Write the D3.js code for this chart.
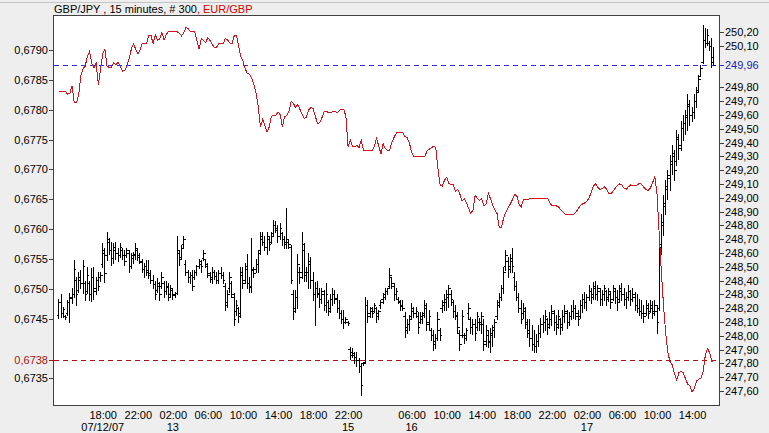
<!DOCTYPE html>
<html>
<head>
<meta charset="utf-8">
<script src="https://cdn.jsdelivr.net/npm/d3@7"></script>
<style>
  html, body { margin: 0; padding: 0; background: #eeeeee; }
  svg { display: block; font-family: "Liberation Sans", Arial, sans-serif; }
</style>
</head>
<body>
<svg id="chart" width="769" height="433"></svg>
<script>
// GBP/JPY 15 minute bars (right axis)
const high = [
  248.27,248.30,248.21,248.15,248.26,248.31,248.35,248.55,248.43,248.46,
  248.48,248.55,248.40,248.50,248.40,248.49,248.50,248.43,248.46,248.46,
  248.67,248.64,248.75,248.71,248.68,248.67,248.68,248.64,248.67,248.64,
  248.62,248.64,248.62,248.60,248.61,248.67,248.64,248.60,248.56,248.53,
  248.55,248.55,248.48,248.44,248.40,248.42,248.39,248.46,248.40,248.40,
  248.38,248.37,248.35,248.32,248.72,248.62,248.66,248.72,248.55,248.48,
  248.46,248.48,248.48,248.51,248.56,248.55,248.62,248.56,248.53,248.46,
  248.50,248.48,248.46,248.48,248.50,248.46,248.38,248.33,248.46,248.40,
  248.31,248.26,248.21,248.50,248.50,248.53,248.59,248.43,248.71,248.50,
  248.56,248.62,248.75,248.75,248.72,248.75,248.72,248.75,248.84,248.83,
  248.80,248.82,248.75,248.72,248.93,248.70,248.66,248.33,248.33,248.59,
  248.50,248.75,248.67,248.50,248.60,248.57,248.46,248.39,248.40,248.35,
  248.35,248.33,248.38,248.26,248.30,248.35,248.33,248.30,248.26,248.19,
  248.19,248.14,248.11,247.92,247.91,247.88,247.88,247.84,247.80,247.81,
  248.28,248.26,248.21,248.21,248.24,248.21,248.19,248.26,248.31,248.35,
  248.35,248.49,248.43,248.38,248.35,248.28,248.26,248.26,248.17,248.12,
  248.15,248.24,248.21,248.21,248.17,248.17,248.17,248.26,248.24,248.19,
  248.06,248.04,248.01,248.17,248.06,248.26,248.30,248.33,248.37,248.33,
  248.26,248.22,248.17,248.04,248.19,248.02,248.06,248.24,248.14,248.12,
  248.12,248.17,248.13,248.17,248.12,248.08,248.04,248.06,248.08,248.12,
  248.26,248.31,248.37,248.50,248.62,248.57,248.59,248.64,248.46,248.40,
  248.31,248.26,248.24,248.21,248.12,248.12,248.08,248.04,248.01,248.08,
  248.13,248.15,248.19,248.13,248.17,248.22,248.19,248.15,248.19,248.13,
  248.19,248.22,248.19,248.17,248.22,248.26,248.22,248.19,248.26,248.30,
  248.32,248.30,248.37,248.35,248.39,248.40,248.37,248.35,248.33,248.37,
  248.33,248.35,248.32,248.37,248.35,248.33,248.37,248.38,248.35,248.32,
  248.37,248.33,248.35,248.32,248.30,248.27,248.26,248.22,248.26,248.24,
  248.26,248.25,248.26,248.22,248.70,248.88,249.02,249.13,249.20,249.31,
  249.38,249.35,249.49,249.46,249.56,249.60,249.64,249.75,249.71,249.66,
  249.75,249.80,249.89,249.96,250.25,250.23,250.22,250.14,250.16,250.09
];
const low = [
  248.13,248.14,248.14,248.12,248.15,248.10,248.24,248.28,248.22,248.32,
  248.35,248.31,248.26,248.31,248.26,248.25,248.27,248.30,248.33,248.40,
  248.50,248.39,248.55,248.59,248.51,248.53,248.56,248.54,248.57,248.56,
  248.51,248.57,248.46,248.49,248.53,248.56,248.55,248.53,248.46,248.43,
  248.44,248.42,248.38,248.35,248.27,248.32,248.26,248.35,248.28,248.30,
  248.26,248.28,248.27,248.28,248.30,248.51,248.56,248.64,248.44,248.39,
  248.38,248.33,248.41,248.44,248.49,248.46,248.55,248.50,248.43,248.39,
  248.38,248.41,248.38,248.38,248.42,248.38,248.19,248.21,248.32,248.28,
  248.08,248.15,248.10,248.14,248.35,248.38,248.35,248.32,248.32,248.43,
  248.46,248.46,248.59,248.66,248.62,248.59,248.62,248.67,248.72,248.75,
  248.68,248.70,248.66,248.64,248.64,248.64,248.38,248.12,248.17,248.20,
  248.38,248.42,248.40,248.40,248.35,248.35,248.26,248.08,248.28,248.21,
  248.24,248.19,248.17,248.15,248.17,248.22,248.24,248.17,248.13,248.09,
  248.06,248.09,248.08,247.83,247.85,247.80,247.78,247.74,247.57,247.79,
  247.80,248.10,248.14,248.14,248.17,248.10,248.12,248.20,248.24,248.27,
  248.30,248.35,248.35,248.26,248.27,248.24,248.19,248.19,247.99,248.02,
  248.04,248.12,248.14,248.14,248.02,248.09,248.09,248.14,248.04,248.04,
  247.97,247.90,247.91,247.97,247.97,248.17,248.19,248.19,248.21,248.22,
  248.14,248.12,248.02,247.90,247.99,247.95,247.97,248.12,248.02,248.01,
  247.97,248.04,248.04,248.02,247.90,247.93,247.92,247.88,247.93,247.99,
  248.12,248.21,248.26,248.31,248.48,248.43,248.46,248.46,248.33,248.26,
  248.17,248.09,248.13,248.06,247.99,247.93,247.90,247.88,247.88,247.93,
  247.99,248.03,248.04,248.01,248.06,248.08,248.04,248.01,248.06,248.01,
  248.04,248.10,248.06,248.08,248.12,248.13,248.12,248.08,248.13,248.17,
  248.20,248.19,248.26,248.24,248.27,248.27,248.26,248.22,248.22,248.26,
  248.22,248.25,248.20,248.26,248.24,248.19,248.25,248.26,248.22,248.20,
  248.26,248.22,248.25,248.19,248.17,248.15,248.13,248.10,248.15,248.13,
  248.17,248.13,248.15,248.02,248.19,248.59,248.73,248.88,248.99,249.06,
  249.17,249.13,249.24,249.28,249.35,249.42,249.46,249.49,249.53,249.56,
  249.58,249.66,249.77,249.88,249.98,250.09,250.11,250.07,249.95,249.96
];
const open = [
  248.15,248.24,248.16,248.14,248.16,248.24,248.27,248.30,248.40,248.33,
  248.40,248.38,248.38,248.32,248.38,248.30,248.42,248.34,248.40,248.42,
  248.52,248.60,248.58,248.68,248.62,248.56,248.62,248.60,248.58,248.62,
  248.58,248.58,248.60,248.50,248.56,248.58,248.62,248.58,248.53,248.48,
  248.50,248.47,248.44,248.40,248.37,248.33,248.36,248.36,248.38,248.32,
  248.35,248.30,248.33,248.30,248.31,248.60,248.57,248.66,248.52,248.46,
  248.42,248.44,248.42,248.46,248.50,248.52,248.56,248.55,248.50,248.44,
  248.42,248.46,248.43,248.40,248.45,248.44,248.36,248.24,248.34,248.38,
  248.28,248.18,248.20,248.16,248.44,248.40,248.48,248.38,248.36,248.47,
  248.48,248.52,248.62,248.70,248.68,248.64,248.70,248.68,248.74,248.80,
  248.76,248.72,248.74,248.70,248.68,248.68,248.64,248.30,248.20,248.28,
  248.46,248.46,248.62,248.44,248.46,248.52,248.40,248.30,248.34,248.30,
  248.26,248.30,248.22,248.24,248.20,248.26,248.30,248.26,248.20,248.16,
  248.12,248.10,248.10,247.90,247.88,247.86,247.84,247.82,247.78,247.80,
  247.81,248.22,248.16,248.18,248.18,248.20,248.16,248.22,248.26,248.30,
  248.32,248.36,248.42,248.36,248.30,248.26,248.24,248.22,248.14,248.06,
  248.08,248.14,248.18,248.16,248.14,248.10,248.12,248.16,248.20,248.10,
  248.04,248.00,247.96,247.98,248.04,248.20,248.22,248.24,248.28,248.30,
  248.24,248.18,248.14,248.02,248.00,248.00,248.00,248.16,248.12,248.06,
  248.08,248.06,248.10,248.10,248.08,247.96,248.00,247.96,248.00,248.04,
  248.14,248.24,248.28,248.34,248.50,248.54,248.50,248.54,248.42,248.36,
  248.28,248.20,248.16,248.18,248.08,248.04,247.98,247.94,247.92,247.96,
  248.02,248.08,248.10,248.12,248.08,248.12,248.16,248.10,248.08,248.12,
  248.08,248.14,248.16,248.10,248.14,248.18,248.20,248.14,248.14,248.22,
  248.26,248.24,248.28,248.32,248.30,248.34,248.30,248.32,248.26,248.30,
  248.32,248.28,248.30,248.26,248.32,248.28,248.26,248.32,248.30,248.26,
  248.28,248.32,248.26,248.28,248.22,248.20,248.18,248.16,248.16,248.20,
  248.18,248.20,248.18,248.18,248.20,248.64,248.80,248.94,249.06,249.14,
  249.24,249.30,249.26,249.42,249.38,249.50,249.54,249.58,249.66,249.60,
  249.62,249.70,249.78,249.88,249.98,250.14,250.12,250.12,250.10,250.02
];
const close = [
  248.24,248.16,248.19,248.13,248.24,248.28,248.30,248.48,248.30,248.42,
  248.38,248.50,248.30,248.44,248.30,248.42,248.32,248.40,248.36,248.44,
  248.62,248.45,248.70,248.62,248.56,248.64,248.60,248.58,248.64,248.58,
  248.54,248.62,248.50,248.58,248.59,248.63,248.57,248.54,248.48,248.50,
  248.46,248.45,248.40,248.37,248.30,248.38,248.30,248.42,248.32,248.36,
  248.28,248.34,248.29,248.31,248.62,248.55,248.63,248.70,248.46,248.42,
  248.44,248.36,248.46,248.50,248.54,248.50,248.60,248.52,248.45,248.41,
  248.46,248.43,248.40,248.45,248.44,248.40,248.22,248.30,248.42,248.30,
  248.12,248.22,248.14,248.46,248.38,248.50,248.38,248.35,248.48,248.45,
  248.52,248.60,248.72,248.68,248.64,248.72,248.66,248.72,248.80,248.78,
  248.72,248.78,248.70,248.66,248.70,248.66,248.40,248.18,248.28,248.52,
  248.42,248.66,248.46,248.46,248.54,248.40,248.30,248.34,248.31,248.26,
  248.32,248.22,248.30,248.18,248.26,248.30,248.27,248.20,248.16,248.12,
  248.10,248.12,248.09,247.86,247.87,247.84,247.82,247.78,247.64,247.80,
  248.22,248.14,248.20,248.16,248.22,248.14,248.18,248.24,248.28,248.32,
  248.34,248.44,248.38,248.30,248.32,248.25,248.21,248.20,248.04,248.08,
  248.12,248.20,248.16,248.18,248.06,248.14,248.15,248.22,248.08,248.14,
  248.00,247.94,247.98,248.12,248.00,248.24,248.26,248.30,248.34,248.26,
  248.18,248.15,248.06,247.94,248.14,247.98,248.04,248.20,248.06,248.08,
  248.02,248.14,248.08,248.14,247.94,248.04,247.95,248.02,248.06,248.10,
  248.22,248.28,248.34,248.46,248.58,248.48,248.56,248.50,248.36,248.28,
  248.20,248.12,248.20,248.10,248.02,247.98,247.94,247.92,247.96,248.02,
  248.08,248.10,248.14,248.06,248.12,248.18,248.10,248.06,248.14,248.06,
  248.14,248.18,248.10,248.14,248.18,248.20,248.16,248.12,248.22,248.26,
  248.24,248.28,248.32,248.28,248.36,248.30,248.34,248.26,248.30,248.34,
  248.26,248.32,248.24,248.34,248.28,248.24,248.34,248.30,248.26,248.28,
  248.32,248.26,248.30,248.22,248.20,248.18,248.16,248.14,248.22,248.16,
  248.22,248.16,248.22,248.10,248.66,248.82,248.96,249.08,249.16,249.26,
  249.32,249.20,249.44,249.36,249.50,249.54,249.60,249.68,249.60,249.62,
  249.70,249.76,249.86,249.94,250.14,250.12,250.18,250.10,249.98,249.96
];

// EUR/GBP close per bar (left axis)
const eurgbp = [
  0.67831,0.67831,0.67831,0.67831,0.67826,0.67828,0.67840,0.67812,0.67812,0.67825,
  0.67857,0.67869,0.67873,0.67890,0.67898,0.67878,0.67870,0.67878,0.67842,0.67867,
  0.67895,0.67901,0.67873,0.67871,0.67871,0.67879,0.67875,0.67880,0.67873,0.67865,
  0.67866,0.67873,0.67885,0.67901,0.67911,0.67902,0.67894,0.67900,0.67911,0.67911,
  0.67911,0.67924,0.67925,0.67911,0.67926,0.67917,0.67919,0.67930,0.67917,0.67926,
  0.67931,0.67931,0.67931,0.67931,0.67931,0.67928,0.67924,0.67929,0.67938,0.67936,
  0.67931,0.67931,0.67931,0.67916,0.67902,0.67919,0.67916,0.67913,0.67921,0.67916,
  0.67910,0.67904,0.67905,0.67911,0.67911,0.67911,0.67920,0.67917,0.67912,0.67911,
  0.67924,0.67925,0.67907,0.67890,0.67882,0.67869,0.67861,0.67860,0.67853,0.67843,
  0.67828,0.67805,0.67771,0.67784,0.67774,0.67763,0.67771,0.67789,0.67791,0.67791,
  0.67796,0.67792,0.67772,0.67788,0.67791,0.67797,0.67814,0.67811,0.67804,0.67809,
  0.67801,0.67793,0.67785,0.67788,0.67800,0.67804,0.67802,0.67790,0.67777,0.67778,
  0.67786,0.67796,0.67798,0.67795,0.67795,0.67797,0.67798,0.67795,0.67799,0.67801,
  0.67801,0.67789,0.67738,0.67749,0.67739,0.67738,0.67740,0.67737,0.67749,0.67732,
  0.67732,0.67732,0.67732,0.67732,0.67739,0.67752,0.67739,0.67726,0.67743,0.67735,
  0.67732,0.67732,0.67746,0.67754,0.67761,0.67762,0.67762,0.67761,0.67755,0.67753,
  0.67744,0.67729,0.67721,0.67721,0.67721,0.67721,0.67721,0.67721,0.67731,0.67734,
  0.67736,0.67739,0.67737,0.67702,0.67674,0.67672,0.67682,0.67687,0.67676,0.67675,
  0.67674,0.67663,0.67667,0.67659,0.67647,0.67651,0.67644,0.67635,0.67626,0.67632,
  0.67657,0.67651,0.67648,0.67651,0.67639,0.67642,0.67660,0.67651,0.67640,0.67632,
  0.67626,0.67602,0.67603,0.67619,0.67628,0.67636,0.67642,0.67649,0.67658,0.67656,
  0.67642,0.67637,0.67649,0.67650,0.67650,0.67651,0.67652,0.67652,0.67652,0.67652,
  0.67652,0.67652,0.67652,0.67652,0.67645,0.67639,0.67639,0.67639,0.67637,0.67633,
  0.67629,0.67625,0.67625,0.67625,0.67625,0.67625,0.67628,0.67634,0.67639,0.67642,
  0.67644,0.67647,0.67652,0.67662,0.67672,0.67676,0.67670,0.67666,0.67668,0.67671,
  0.67667,0.67660,0.67659,0.67664,0.67669,0.67673,0.67676,0.67674,0.67668,0.67667,
  0.67671,0.67674,0.67673,0.67672,0.67674,0.67677,0.67675,0.67670,0.67666,0.67665,
  0.67669,0.67678,0.67688,0.67659,0.67592,0.67528,0.67471,0.67424,0.67392,0.67377,
  0.67372,0.67357,0.67347,0.67359,0.67361,0.67359,0.67349,0.67340,0.67337,0.67327,
  0.67332,0.67345,0.67348,0.67350,0.67360,0.67387,0.67400,0.67393,0.67378,0.67380
];

// axis ticks
const leftTicks = [0.6790, 0.6785, 0.6780, 0.6775, 0.6770, 0.6765, 0.6760, 0.6755, 0.6750, 0.6745, 0.6735];
const rightTicks = [250.20, 250.10, 249.80, 249.70, 249.60, 249.50, 249.40, 249.30, 249.20, 249.10,
  249.00, 248.90, 248.80, 248.70, 248.60, 248.50, 248.40, 248.30, 248.20, 248.10,
  248.00, 247.90, 247.80, 247.70, 247.60];
const timeTickBars = [20, 36, 52, 68, 84, 100, 116, 132, 161, 177, 193, 209, 225, 241, 257, 273, 289];
const timeTickLabels = ["18:00", "22:00", "02:00", "06:00", "10:00", "14:00", "18:00", "22:00",
  "06:00", "10:00", "14:00", "18:00", "22:00", "02:00", "06:00", "10:00", "14:00"];
const dateBars = [20, 52, 132, 161, 241];
const dateLabels = ["07/12/07", "13", "15", "16", "17"];

const N = close.length;
const W = 769, H = 433;
const m = { left: 53, top: 15, right: 719, bottom: 405 };

const locale = d3.formatLocale({ decimal: ",", thousands: ".", grouping: [3], currency: ["", ""] });
const f4 = locale.format(".4f");
const f2 = locale.format(".2f");

const x = d3.scaleLinear().domain([-2.7, N - 1 + 2.3]).range([m.left, m.right]);
const yL = d3.scaleLinear().domain([0.67305, 0.67959]).range([m.bottom, m.top]);
const yR = d3.scaleLinear().domain([247.499, 250.325]).range([m.bottom, m.top]);

const svg = d3.select("#chart");

svg.append("rect").attr("width", W).attr("height", H).attr("fill", "#eeeeee");
svg.append("line")
  .attr("x1", 0).attr("x2", W).attr("y1", 2.5).attr("y2", 2.5)
  .attr("stroke", "#c4c4c4");

// plot area
svg.append("rect")
  .attr("x", m.left + 0.5).attr("y", m.top + 0.5)
  .attr("width", m.right - m.left).attr("height", m.bottom - m.top)
  .attr("fill", "#ffffff").attr("stroke", "#404040");

// title
const title = svg.append("text")
  .attr("x", 54).attr("y", 12.5)
  .attr("font-size", 11);
title.append("tspan").attr("fill", "#000").text("GBP/JPY , 15 minutes, # 300");
title.append("tspan").attr("fill", "#d00000").text(", EUR/GBP");

// axes
function styleAxis(g) {
  g.select(".domain").remove();
  g.selectAll("line").attr("stroke", "#404040").attr("shape-rendering", "crispEdges");
  g.selectAll("text").attr("font-size", 11).attr("fill", "#000")
    .attr("font-family", "'Liberation Sans', Arial, sans-serif");
}

svg.append("g")
  .attr("transform", `translate(${m.left},0)`)
  .call(d3.axisLeft(yL).tickValues(leftTicks).tickFormat(f4).tickSize(4).tickPadding(1))
  .call(styleAxis);

svg.append("g")
  .attr("transform", `translate(${m.right + 1},0)`)
  .call(d3.axisRight(yR).tickValues(rightTicks).tickFormat(f2).tickSize(4).tickPadding(1))
  .call(styleAxis);

svg.append("g")
  .attr("transform", `translate(0,${m.bottom + 1})`)
  .call(d3.axisBottom(x).tickValues(timeTickBars)
    .tickFormat((d, i) => timeTickLabels[i]).tickSize(0).tickPadding(5))
  .call(styleAxis);

svg.append("g")
  .selectAll("text")
  .data(dateBars)
  .join("text")
    .attr("x", d => x(d))
    .attr("y", 431)
    .attr("text-anchor", "middle")
    .attr("font-size", 11)
    .text((d, i) => dateLabels[i]);

const plot = svg.append("g");

// last value lines
const lastEur = eurgbp[N - 1];
const lastGbp = close[N - 1];

plot.append("line")
  .attr("x1", m.left + 1).attr("x2", m.right)
  .attr("y1", Math.round(yL(lastEur)) + 0.5).attr("y2", Math.round(yL(lastEur)) + 0.5)
  .attr("stroke", "#b01010").attr("stroke-dasharray", "5,4");
plot.append("line")
  .attr("x1", m.left + 1).attr("x2", m.right)
  .attr("y1", Math.round(yR(lastGbp)) + 0.5).attr("y2", Math.round(yR(lastGbp)) + 0.5)
  .attr("stroke", "#2c2ce0").attr("stroke-dasharray", "5,4");

// OHLC bars
const bars = plot.append("g")
  .attr("stroke", "#000")
  .attr("shape-rendering", "crispEdges")
  .selectAll("g")
  .data(d3.range(N))
  .join("g");

bars.append("line")
  .attr("x1", i => x(i)).attr("x2", i => x(i))
  .attr("y1", i => yR(high[i])).attr("y2", i => yR(low[i]) + 1);
bars.append("line")
  .attr("x1", i => x(i) - 2).attr("x2", i => x(i))
  .attr("y1", i => yR(open[i])).attr("y2", i => yR(open[i]));
bars.append("line")
  .attr("x1", i => x(i)).attr("x2", i => x(i) + 2)
  .attr("y1", i => yR(close[i])).attr("y2", i => yR(close[i]));

// EUR/GBP line
plot.append("path")
  .datum(eurgbp)
  .attr("fill", "none")
  .attr("stroke", "#d81018")
  .attr("stroke-width", 1)
  .attr("shape-rendering", "crispEdges")
  .attr("d", d3.line().x((d, i) => x(i)).y(d => yL(d)));

// last value labels
svg.append("line")
  .attr("x1", m.left - 4).attr("x2", m.left)
  .attr("y1", Math.round(yL(lastEur)) + 0.5).attr("y2", Math.round(yL(lastEur)) + 0.5)
  .attr("stroke", "#b01010");
svg.append("text")
  .attr("x", m.left - 5).attr("y", yL(lastEur)).attr("dy", "0.35em")
  .attr("text-anchor", "end").attr("font-size", 11).attr("fill", "#a01818")
  .text(f4(lastEur));

svg.append("line")
  .attr("x1", m.right + 1).attr("x2", m.right + 5)
  .attr("y1", Math.round(yR(lastGbp)) + 0.5).attr("y2", Math.round(yR(lastGbp)) + 0.5)
  .attr("stroke", "#2c2ce0");
svg.append("text")
  .attr("x", m.right + 6).attr("y", yR(lastGbp)).attr("dy", "0.35em")
  .attr("font-size", 11).attr("fill", "#1c1cb0")
  .text(f2(lastGbp));
</script>
</body>
</html>
